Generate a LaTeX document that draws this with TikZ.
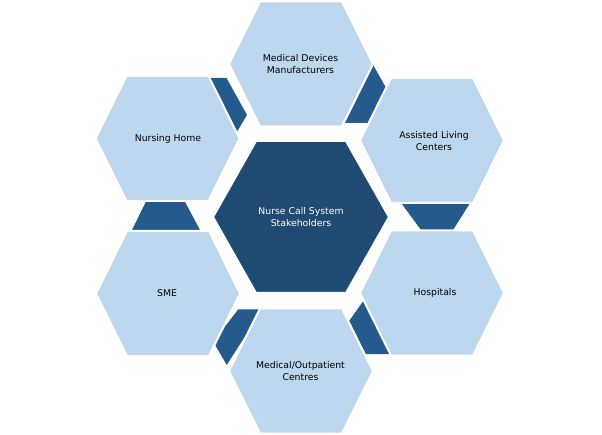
\documentclass[tikz,border=0pt]{standalone}
\usepackage{fontspec}
\setmainfont{DejaVu Sans}
\definecolor{lightblue}{HTML}{BDD7EE}
\definecolor{centerblue}{HTML}{1F4B73}
\definecolor{linkblue}{HTML}{255A8C}
\tikzset{
  outerhex/.style={fill=lightblue, draw=white, line width=2pt},
  centerhex/.style={fill=centerblue, draw=white, line width=2pt},
  linkshape/.style={fill=linkblue},
  lbl/.style={font=\fontsize{9.3}{11.4}\selectfont, align=center, text=black, inner sep=0pt},
  clbl/.style={lbl, text=white}
}
% #1 style, #2 cx, #3 cy, #4 half-width, #5 half-height, #6 indent
\newcommand\hexshape[6]{\path[#1] (#2-#4,#3) -- (#2-#4+#6,#3-#5) -- (#2+#4-#6,#3-#5) -- (#2+#4,#3) -- (#2+#4-#6,#3+#5) -- (#2-#4+#6,#3+#5) -- cycle;}
\begin{document}
\begin{tikzpicture}[x=1pt,y=-1pt]
\fill[white] (0,0) rectangle (602,435);
\useasboundingbox (0,0) rectangle (602,435);
% dark link shapes (drawn first, partly hidden)
\path[linkshape] (195,78) -- (226.5,78) -- (247,115) -- (226,150) -- cycle;
\path[linkshape] (330,63) -- (372,63) -- (389,93) -- (372,123) -- (330,123) -- cycle;
\path[linkshape] (399,200) -- (472,200) -- (453,230) -- (421,230) -- cycle;
\path[linkshape] (364,300) -- (347,324) -- (365,354) -- (400,354) -- (375,300) -- cycle;
\path[linkshape] (238.3,309.3) -- (262.3,309.3) -- (226.7,365) -- (213.3,341.7) -- cycle;
\path[linkshape] (146.7,200) -- (184,200) -- (200,230) -- (132,230) -- cycle;
% outer hexagons
\hexshape{outerhex}{301}{64}{72}{62.5}{31}
\hexshape{outerhex}{432}{140.5}{72}{62.5}{31}
\hexshape{outerhex}{432}{293}{72}{62.5}{31}
\hexshape{outerhex}{301}{371}{72}{62.5}{31}
\hexshape{outerhex}{168}{293.5}{72}{62.5}{31}
\hexshape{outerhex}{167.5}{138.5}{72}{62.5}{31}
% centre hexagon
\hexshape{centerhex}{301}{217}{88}{76}{43}
% labels
\node[clbl] (center) at (301,217) {Nurse Call System\\Stakeholders};
\node[lbl] (md) at (300.5,64) {Medical Devices\\Manufacturers};
\node[lbl] (al) at (434,141) {Assisted Living\\Centers};
\node[lbl] (hosp) at (435,293) {Hospitals};
\node[lbl] (mo) at (300.5,371) {Medical/Outpatient\\Centres};
\node[lbl] (sme) at (167,293) {SME};
\node[lbl] (nh) at (168,139) {Nursing Home};
\end{tikzpicture}
\end{document}
